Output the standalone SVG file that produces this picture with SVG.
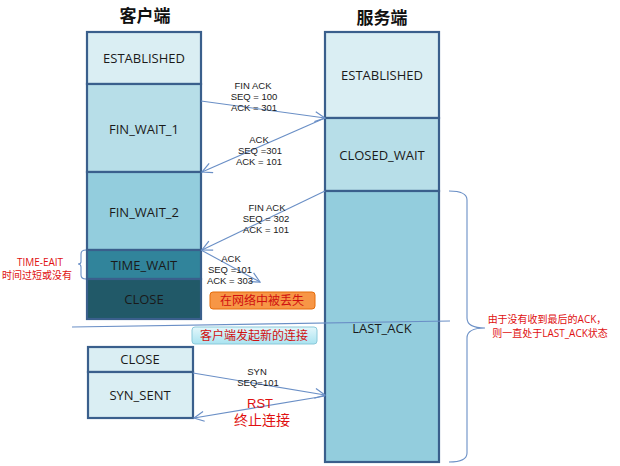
<svg xmlns="http://www.w3.org/2000/svg" width="620" height="466" viewBox="0 0 620 466">
<defs>
<marker id="ah" markerWidth="12" markerHeight="12" refX="11" refY="6" orient="auto" markerUnits="userSpaceOnUse">
<polyline points="1,1 11,6 1,11" fill="none" stroke="#6A8FC6" stroke-width="1.2"/>
</marker>
<linearGradient id="cy" x1="0" y1="0" x2="0" y2="1">
<stop offset="0" stop-color="#E4F7FB"/><stop offset="1" stop-color="#A9E3F0"/>
</linearGradient>
</defs>
<style>
.st{stroke:#3A5F8C;stroke-width:2.2}
.c1{fill:#DAEEF3}.c2{fill:#B7DEE8}.c3{fill:#93CDDD}.c4{fill:#31849B}.c5{fill:#215968}
.lb{font-family:"Open Sans","Liberation Sans","Noto Sans CJK SC",sans-serif;font-size:13px;fill:#1a1a1a;text-anchor:middle}
.sm{font-family:"Liberation Sans","Noto Sans CJK SC",sans-serif;font-size:9.5px;fill:#1a1a1a;text-anchor:middle}
.rd{font-family:"Open Sans","Liberation Sans","Noto Sans CJK SC",sans-serif;font-size:10px;fill:#E01010;text-anchor:middle}
.tt{font-family:"Noto Sans CJK SC",sans-serif;font-size:17px;font-weight:bold;fill:#111;text-anchor:middle}
.ln{stroke:#6A8FC6;stroke-width:1.1;fill:none}
</style>
<text class="tt" x="145" y="22">客户端</text>
<text class="tt" x="382" y="24">服务端</text>
<g id="client">
<rect class="st c1" x="87" y="32" width="114" height="52"/>
<text class="lb" x="144" y="63">ESTABLISHED</text>
<rect class="st c2" x="87" y="84" width="114" height="88"/>
<text class="lb" x="144" y="134">FIN_WAIT_1</text>
<rect class="st c3" x="87" y="172" width="114" height="78"/>
<text class="lb" x="144" y="217">FIN_WAIT_2</text>
<rect class="st c4" x="87" y="250" width="114" height="29"/>
<text class="lb" x="144" y="270">TIME_WAIT</text>
<rect class="st c5" x="87" y="279" width="114" height="40"/>
<text class="lb" x="144" y="304">CLOSE</text>
</g>
<g id="server">
<rect class="st c1" x="325" y="32" width="114" height="86"/>
<text class="lb" x="382" y="80">ESTABLISHED</text>
<rect class="st c2" x="325" y="118" width="114" height="73"/>
<text class="lb" x="382" y="160">CLOSED_WAIT</text>
<rect class="st c3" x="325" y="191" width="114" height="271"/>
<text class="lb" x="382" y="333">LAST_ACK</text>
</g>
<g id="client2">
<rect class="st c1" x="88" y="347" width="105" height="25"/>
<text class="lb" x="140" y="364">CLOSE</text>
<rect class="st c1" x="88" y="372" width="105" height="46"/>
<text class="lb" x="140" y="400">SYN_SENT</text>
</g>
<g id="connectors">
<line class="ln" x1="201" y1="101" x2="325" y2="118" marker-end="url(#ah)"/>
<line class="ln" x1="325" y1="118" x2="202" y2="172" marker-end="url(#ah)"/>
<line class="ln" x1="325" y1="191" x2="202" y2="250" marker-end="url(#ah)"/>
<line class="ln" x1="201" y1="250" x2="260" y2="282" marker-end="url(#ah)"/>
<line class="ln" x1="193" y1="373" x2="325" y2="395" marker-end="url(#ah)"/>
<line class="ln" x1="325" y1="396" x2="194" y2="418" marker-end="url(#ah)"/>
<line class="ln" x1="72" y1="327" x2="450" y2="321"/>
<path class="ln" d="M86,250 Q81,250 81,254 L81,262 Q81,264 78,264 Q81,264 81,267 L81,275 Q81,279 86,279"/>
<path class="ln" d="M449,191 Q467,191 467,200 L467,318 Q467,328 485,328 Q467,328 467,338 L467,453 Q467,462 449,462"/>
</g>
<g id="labels">
<text class="sm" x="253" y="89">FIN ACK</text>
<text class="sm" x="254" y="100">SEQ = 100</text>
<text class="sm" x="254" y="111">ACK = 301</text>
<text class="sm" x="259" y="143">ACK</text>
<text class="sm" x="260" y="154">SEQ =301</text>
<text class="sm" x="259" y="165">ACK = 101</text>
<text class="sm" x="267" y="211">FIN ACK</text>
<text class="sm" x="266" y="222">SEQ = 302</text>
<text class="sm" x="266" y="233">ACK = 101</text>
<text class="sm" x="231" y="262">ACK</text>
<text class="sm" x="230" y="273">SEQ =101</text>
<text class="sm" x="230" y="284">ACK = 303</text>
<text class="sm" x="257" y="375">SYN</text>
<text class="sm" x="258" y="386">SEQ=101</text>
<text class="rd" x="40" y="266">TIME-EAIT</text>
<text class="rd" x="37" y="279">时间过短或没有</text>
<text class="rd" x="547" y="323">由于没有收到最后的ACK，</text>
<text class="rd" x="550" y="337">则一直处于LAST_ACK状态</text>
<text style="font-family:'Liberation Sans','Noto Sans CJK SC',sans-serif;fill:#E01010;text-anchor:middle"><tspan x="260" y="408" style="font-size:13px">RST</tspan><tspan x="262" y="425" style="font-size:14px">终止连接</tspan></text>
</g>
<g id="note-lost">
<rect x="210" y="292" width="105" height="17" rx="3" fill="#F79646" stroke="#E46C0A" stroke-width="1"/>
<text class="rd" x="262" y="305" style="font-size:12px;fill:#D01010">在网络中被丢失</text>
</g>
<g id="note-new">
<rect x="192" y="327" width="125" height="17" rx="3" fill="url(#cy)" stroke="#8BC9DA" stroke-width="1"/>
<text class="rd" x="254" y="340" style="font-size:12px;fill:#D01010">客户端发起新的连接</text>
</g>
</svg>
